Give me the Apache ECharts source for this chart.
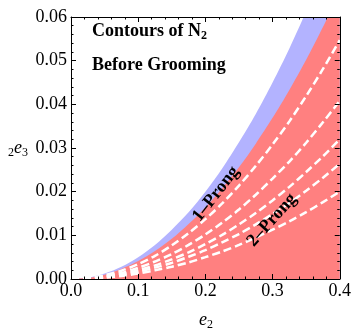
<!DOCTYPE html>
<html>
<head>
<meta charset="utf-8">
<script src="https://cdn.jsdelivr.net/npm/echarts@6/dist/echarts.min.js"></script>
<style>
  html, body { margin: 0; padding: 0; background: #fff; }
  #chart { width: 354px; height: 329px; }
</style>
</head>
<body>
<div id="chart"></div>
<script>
// e2 sample points along the curves
const e2Values = [0, 0.025, 0.05, 0.075, 0.1, 0.125, 0.15, 0.175, 0.2, 0.225, 0.25, 0.275, 0.3, 0.325, 0.35, 0.375, 0.4]
// boundaries of the shaded regions (2e3)
const blueUpper = [0, 0.0003, 0.00125, 0.0028, 0.005, 0.0078, 0.0113, 0.0153, 0.02, 0.0253, 0.0313, 0.0378, 0.045, 0.0528, 0.0613, 0.0703, 0.08]
const redUpper = [0, 0.00026, 0.001, 0.0023, 0.0041, 0.0064, 0.0092, 0.0126, 0.0164, 0.0208, 0.0256, 0.031, 0.0369, 0.0433, 0.0502, 0.0577, 0.0656]
// dashed contours
const contour1 = [0, 0.00021, 0.00086, 0.0019, 0.0034, 0.0053, 0.0077, 0.0105, 0.0137, 0.0173, 0.0214, 0.0259, 0.0308, 0.0361, 0.0419, 0.0481, 0.0547]
const contour2 = [0, 0.00016, 0.00064, 0.0014, 0.00255, 0.004, 0.0057, 0.0078, 0.0102, 0.0129, 0.0159, 0.0193, 0.023, 0.0269, 0.0312, 0.0359, 0.0408]
const contour3 = [0, 0.000125, 0.0005, 0.0011, 0.002, 0.0031, 0.0045, 0.0061, 0.008, 0.0101, 0.0125, 0.0151, 0.018, 0.0211, 0.0245, 0.0281, 0.032]
const contour4 = [0, 0.0001, 0.00041, 0.00093, 0.00165, 0.0026, 0.0037, 0.0051, 0.0066, 0.0084, 0.0103, 0.0125, 0.0149, 0.0174, 0.0202, 0.0232, 0.0264]
const contour5 = [0, 0.00008, 0.00031, 0.0007, 0.00125, 0.002, 0.0028, 0.0038, 0.005, 0.0063, 0.0078, 0.0095, 0.0113, 0.0132, 0.0153, 0.0176, 0.02]
const xTicks = [0, 0.1, 0.2, 0.3, 0.4]
const yTicks = [0, 0.01, 0.02, 0.03, 0.04, 0.05, 0.06]

const serif = '"Liberation Serif", "DejaVu Serif", serif'
const pairs = (ys) => e2Values.map((x, i) => [x, ys[i]])

const chart = echarts.init(document.getElementById('chart'))

const tickStyle = { lineStyle: { color: '#000', width: 1 } }
function makeAxis(kind, pos, ticks, showLabel) {
  return {
    type: 'value',
    position: pos,
    min: ticks[0],
    max: ticks[ticks.length - 1],
    interval: ticks[1] - ticks[0],
    z: 10,
    axisLine: { show: true, onZero: false, lineStyle: { color: '#000', width: 1 } },
    axisTick: { show: true, inside: true, length: 5, ...tickStyle },
    minorTick: { show: true, splitNumber: 5, length: 2.5, ...tickStyle },
    splitLine: { show: false },
    axisLabel: {
      show: showLabel,
      color: '#000',
      fontFamily: serif,
      fontSize: 18,
      margin: kind === 'x' ? 3 : 4,
      formatter: (v) => v.toFixed(kind === 'x' ? 1 : 2),
    },
  }
}

const dashedSeries = [contour1, contour2, contour3, contour4, contour5].map((ys) => ({
  type: 'line',
  data: pairs(ys),
  smooth: 0.3,
  symbol: 'none',
  z: 5,
  lineStyle: { color: '#fff', width: 2.5, type: [8, 4] },
}))

chart.setOption({
  animation: false,
  grid: { left: 71, right: 12, top: 17, bottom: 50 },
  xAxis: [makeAxis('x', 'bottom', xTicks, true), makeAxis('x', 'top', xTicks, false)],
  yAxis: [makeAxis('y', 'left', yTicks, true), makeAxis('y', 'right', yTicks, false)],
  series: [
    {
      type: 'line',
      data: pairs(blueUpper),
      smooth: 0.3,
      symbol: 'none',
      z: 2,
      lineStyle: { width: 0 },
      areaStyle: { color: '#b3b3ff', opacity: 1 },
    },
    {
      type: 'line',
      data: pairs(redUpper),
      smooth: 0.3,
      symbol: 'none',
      z: 3,
      lineStyle: { width: 0 },
      areaStyle: { color: '#ff8080', opacity: 1 },
    },
    ...dashedSeries,
  ],
  graphic: [
    {
      type: 'text', left: 92, top: 22, z: 20,
      style: {
        text: '{b|Contours of N}{s|2}',
        rich: {
          b: { fontFamily: serif, fontWeight: 'bold', fontSize: 18, fill: '#000' },
          s: { fontFamily: serif, fontWeight: 'bold', fontSize: 12, fill: '#000', padding: [9, 0, 0, 0] },
        },
      },
    },
    {
      type: 'text', left: 92, top: 56, z: 20,
      style: { text: 'Before Grooming', font: 'bold 18px ' + serif, fill: '#000' },
    },
    {
      type: 'text', x: 216, y: 194, rotation: 52 * Math.PI / 180, z: 20,
      style: { text: '1\u2013Prong', font: 'bold 18px ' + serif, fill: '#000', align: 'center', verticalAlign: 'middle' },
    },
    {
      type: 'text', x: 272, y: 220, rotation: 48 * Math.PI / 180, z: 20,
      style: { text: '2\u2013Prong', font: 'bold 18px ' + serif, fill: '#000', align: 'center', verticalAlign: 'middle' },
    },
    {
      type: 'text', x: 206, y: 320, z: 20,
      style: {
        text: '{i|e}{s|2}',
        align: 'center', verticalAlign: 'middle',
        rich: {
          i: { fontFamily: serif, fontStyle: 'italic', fontSize: 18, fill: '#000' },
          s: { fontFamily: serif, fontSize: 12, fill: '#000', padding: [9, 0, 0, 0] },
        },
      },
    },
    {
      type: 'text', x: 18, y: 148, z: 20,
      style: {
        text: '{s|2}{i|e}{s|3}',
        align: 'center', verticalAlign: 'middle',
        rich: {
          i: { fontFamily: serif, fontStyle: 'italic', fontSize: 18, fill: '#000' },
          s: { fontFamily: serif, fontSize: 12, fill: '#000', padding: [9, 0, 0, 0] },
        },
      },
    },
  ],
})
</script>
</body>
</html>
